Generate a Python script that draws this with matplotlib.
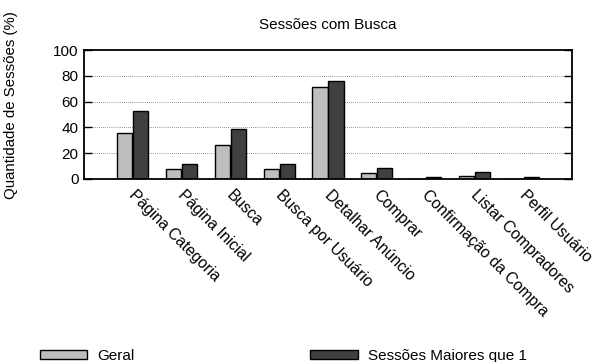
import matplotlib
matplotlib.use("Agg")
import matplotlib.pyplot as plt
import matplotlib.transforms as mtransforms
import numpy as np

plt.rcParams['font.family'] = ['Liberation Sans', 'DejaVu Sans']

categories = ["Página Categoria", "Página Inicial", "Busca", "Busca por Usuário",
              "Detalhar Anúncio", "Comprar", "Confirmação da Compra",
              "Listar Compradores", "Perfil Usuário"]
geral = [36, 7.5, 26, 7.5, 71, 4.3, 0, 2.5, 0]
maiores = [53, 11.3, 38.5, 11.3, 76.3, 8.3, 1.2, 5.3, 1.2]
series_labels = ["Geral", "Sessões Maiores que 1"]
yticks = [0, 20, 40, 60, 80, 100]

fig = plt.figure(figsize=(5.95, 3.62), dpi=100)
ax = fig.add_axes([84/595, 1 - 179/362, 488/595, 129/362])

x = np.arange(len(categories))
w = 0.31
off = 0.165
b1 = ax.bar(x - off, geral, w, color="#bebebe", edgecolor="black", linewidth=1.0,
            label=series_labels[0], zorder=3)
b2 = ax.bar(x + off, maiores, w, color="#404040", edgecolor="black", linewidth=1.0,
            label=series_labels[1], zorder=3)

ax.set_xlim(-1, len(categories))
ax.set_ylim(0, 100)
ax.set_yticks(yticks)
ax.set_yticklabels([str(v) for v in yticks], fontsize=11)
ax.set_xticks(x)
ax.set_xticklabels(categories, rotation=-45, ha="left", va="top",
                   rotation_mode="anchor", fontsize=11.3)
ax.tick_params(axis="x", length=0, pad=6)
ax.tick_params(axis="y", direction="in", length=6, width=1, right=True, pad=4)

# nudge rotated category labels a little to the right
shift = mtransforms.ScaledTranslation(4/100, 0, fig.dpi_scale_trans)
for lbl in ax.get_xticklabels():
    lbl.set_transform(lbl.get_transform() + shift)

for yv in yticks[1:-1]:
    ax.axhline(yv, color="#333333", linestyle=(0, (1, 2)), linewidth=0.5, zorder=1)

for s in ax.spines.values():
    s.set_linewidth(1.3)
    s.set_zorder(4)

ax.set_title("Sessões com Busca", fontsize=11, pad=15)
ax.set_ylabel("Quantidade de Sessões (%)", fontsize=10.8)
ax.yaxis.set_label_coords(-0.135, 0.575)

fig.legend(handles=[b1, b2], labels=series_labels, loc="center left",
           bbox_to_anchor=(40/595, 6/362), ncol=2, frameon=False, fontsize=11,
           handlelength=3.1, handleheight=0.45, handletextpad=0.65,
           columnspacing=11.5, borderpad=0, borderaxespad=0)

fig.savefig("out.png", dpi=100)
